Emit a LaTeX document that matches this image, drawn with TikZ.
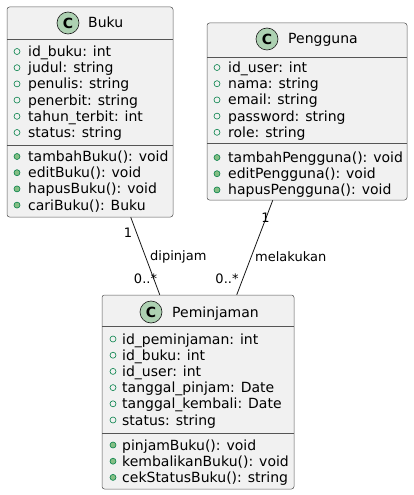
\documentclass[tikz,border=0pt]{standalone}
\usepackage{fontspec}
\setmainfont{DejaVu Sans}
\usetikzlibrary{calc}
\definecolor{boxfill}{HTML}{F1F1F1}
\definecolor{boxline}{HTML}{181818}
\definecolor{divline}{HTML}{555555}
\definecolor{cfill}{HTML}{ADD1B2}
\definecolor{vis}{HTML}{038048}
\definecolor{visfill}{HTML}{84BE84}
\tikzset{
  classbox/.style={draw=divline, fill=boxfill, line width=0.5pt, rounded corners=2.5pt, inner sep=0pt},
  divider/.style={draw=divline, line width=0.5pt},
  cicon/.style={circle, draw=boxline, fill=cfill, line width=0.6pt, minimum size=22pt, inner sep=0pt, font=\fontsize{14}{16}\selectfont\bfseries},
  ctitle/.style={anchor=base west, inner sep=0pt, font=\fontsize{14}{16}\selectfont},
  member/.style={anchor=base west, inner sep=0pt, font=\fontsize{14}{16}\selectfont},
  fieldmark/.style={circle, draw=vis, line width=0.6pt, minimum size=6pt, inner sep=0pt},
  methodmark/.style={circle, draw=vis, fill=visfill, line width=0.6pt, minimum size=6pt, inner sep=0pt},
  assoc/.style={draw=boxline, line width=0.8pt},
  elabel/.style={inner sep=0pt, font=\fontsize{13}{15}\selectfont}
}
\begin{document}
\begin{tikzpicture}[x=1pt,y=-1pt]
\useasboundingbox (0,0) rectangle (413,495);

% ---------- Buku ----------
\node[classbox, minimum width=166pt, minimum height=210pt] (buku) at (90,112) {};
\node[cicon] (bukuC) at (68,23) {C};
\node[ctitle] (bukuT) at (88,28) {Buku};
\draw[divider] (7,39) -- (173,39);
\draw[divider] (7,145) -- (173,145);
\foreach \t [count=\i from 0] in {id\_buku: int, judul: string, penulis: string, penerbit: string, tahun\_terbit: int, status: string}{
  \node[fieldmark] (bukuF\i) at (17,{51.5+16.2*\i}) {};
  \node[member] (bukuA\i) at (28,{56.5+16.2*\i}) {\t};
}
\foreach \t [count=\i from 0] in {tambahBuku(): void, editBuku(): void, hapusBuku(): void, cariBuku(): Buku}{
  \node[methodmark] (bukuG\i) at (17,{156.5+16.2*\i}) {};
  \node[member] (bukuM\i) at (28,{161.5+16.2*\i}) {\t};
}

% ---------- Pengguna ----------
\node[classbox, minimum width=200pt, minimum height=177pt] (peng) at (307,111.5) {};
\node[cicon] (pengC) at (267,39) {C};
\node[ctitle] (pengT) at (288,44) {Pengguna};
\draw[divider] (207,57) -- (407,57);
\draw[divider] (207,143) -- (407,143);
\foreach \t [count=\i from 0] in {id\_user: int, nama: string, email: string, password: string, role: string}{
  \node[fieldmark] (pengF\i) at (217,{67.5+16.2*\i}) {};
  \node[member] (pengA\i) at (228,{72.5+16.2*\i}) {\t};
}
\foreach \t [count=\i from 0] in {tambahPengguna(): void, editPengguna(): void, hapusPengguna(): void}{
  \node[methodmark] (pengG\i) at (217,{157.5+16.2*\i}) {};
  \node[member] (pengM\i) at (228,{162.5+16.2*\i}) {\t};
}

% ---------- Peminjaman ----------
\node[classbox, minimum width=192pt, minimum height=194pt] (pem) at (198,392) {};
\node[cicon] (pemC) at (151,312) {C};
\node[ctitle] (pemT) at (172,317) {Peminjaman};
\draw[divider] (102,326) -- (294,326);
\draw[divider] (102,433) -- (294,433);
\foreach \t [count=\i from 0] in {id\_peminjaman: int, id\_buku: int, id\_user: int, tanggal\_pinjam: Date, tanggal\_kembali: Date, status: string}{
  \node[fieldmark] (pemF\i) at (113,{339+16.2*\i}) {};
  \node[member] (pemA\i) at (122,{344+16.2*\i}) {\t};
}
\foreach \t [count=\i from 0] in {pinjamBuku(): void, kembalikanBuku(): void, cekStatusBuku(): string}{
  \node[methodmark] (pemG\i) at (113,{445+16.2*\i}) {};
  \node[member] (pemM\i) at (122,{450+16.2*\i}) {\t};
}

% ---------- Associations ----------
\coordinate (bukuEnd) at ($(buku.south west)+(124,0)$);
\coordinate (pemEndA) at ($(pem.north west)+(58,0)$);
\coordinate (pengEnd) at ($(peng.south west)+(66,0)$);
\coordinate (pemEndB) at ($(pem.north west)+(135,0)$);
\draw[assoc] (bukuEnd) -- (pemEndA);
\draw[assoc] (pengEnd) -- (pemEndB);

\node[elabel] (l1) at (128,233) {1};
\node[elabel, anchor=west] (l2) at (150,257) {dipinjam};
\node[elabel] (l3) at (145.5,279) {0..*};
\node[elabel] (l4) at (265.5,218) {1};
\node[elabel, anchor=west] (l5) at (255,257) {melakukan};
\node[elabel] (l6) at (227,279) {0..*};
\end{tikzpicture}
\end{document}
